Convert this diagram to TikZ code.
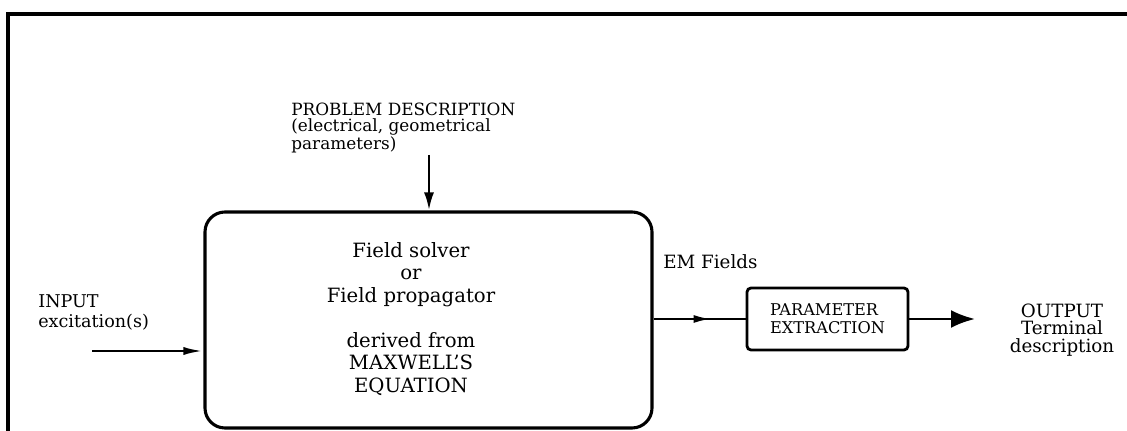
\documentclass[tikz,border=0pt]{standalone}
\usepackage{fontspec}
\setmainfont{DejaVu Serif}
\usepackage{tikz}
\usetikzlibrary{positioning,calc,arrows.meta,decorations.markings}

\begin{document}
\begin{tikzpicture}[
    line width=1.9pt,
    block/.style={draw, line width=2.2pt, rounded corners=0.5cm, minimum width=11.175cm, minimum height=5.4cm},
    smallblock/.style={draw, line width=2pt, rounded corners=0.1cm, minimum width=4.025cm, minimum height=1.55cm, align=left, font=\fontsize{11.5}{13}\selectfont},
    note/.style={align=left, inner sep=0pt, font=\fontsize{12}{11}\selectfont},
    midarrow/.style={postaction={decorate}, decoration={markings, mark=at position 0.63 with {\arrow{Latex[length=0.45cm,width=0.2cm]}}}}
]
    \useasboundingbox (0,0) rectangle (28.175,10.775);

    % Frame
    \draw[line width=2.3pt] (0.2,0) -- (0.2,10.425) -- (28.175,10.425);

    % Field solver block
    \node[block] (solver) at (10.7125,2.775) {};
    \node[align=center, font=\fontsize{14}{16}\selectfont] (solvertext) at (10.275,2.8) {Field solver\\or\\Field propagator\\[16pt]derived from\\MAXWELL'S\\EQUATION};

    % Problem description
    \node[note, anchor=west] (problem) at (7.25,7.575) {PROBLEM DESCRIPTION\\(electrical, geometrical\\parameters)};
    \coordinate (probtop) at (10.725,6.9);
    \draw[-{Latex[length=0.45cm,width=0.25cm]}] (probtop) -- (probtop |- solver.north);

    % Input
    \node[note, anchor=west, font=\fontsize{12.5}{14}\selectfont] (input) at (0.925,2.96) {INPUT\\excitation(s)};
    \coordinate (inpstart) at (2.3,2.0);
    \draw[-{Latex[length=0.5cm,width=0.2cm]}] (inpstart) -- (inpstart -| solver.west);

    % Parameter extraction
    \node[smallblock] (param) at (20.6875,2.8) {PARAMETER\\EXTRACTION};
    \node[note, anchor=west, font=\fontsize{13}{13}\selectfont] (emfields) at (16.55,4.225) {EM Fields};
    \draw[midarrow] (param.west -| solver.east) -- (param.west);

    % Output
    \coordinate (outtip) at (24.375,2.8);
    \draw[-{Latex[length=0.6cm,width=0.45cm]}] (param.east) -- (outtip);
    \node[align=center, font=\fontsize{13}{12.5}\selectfont] (output) at (26.55,2.525) {OUTPUT\\Terminal\\description};
\end{tikzpicture}
\end{document}
